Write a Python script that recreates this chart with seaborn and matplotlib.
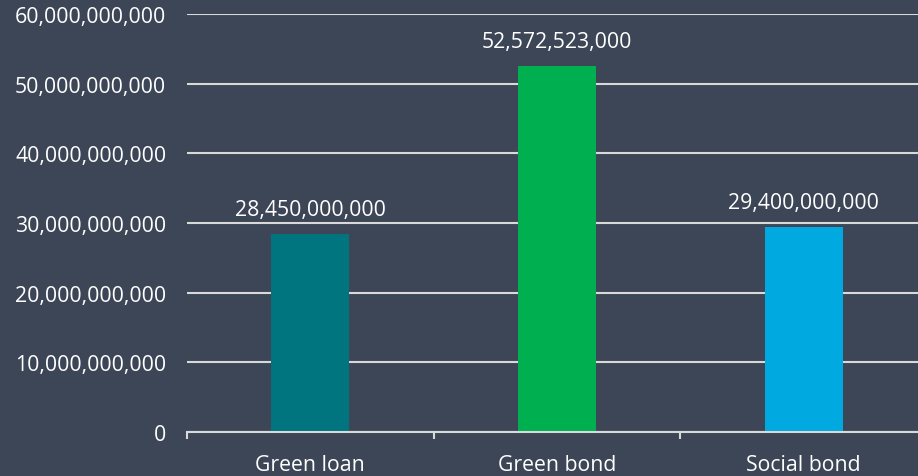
import matplotlib
matplotlib.use("Agg")
import matplotlib.pyplot as plt
import seaborn as sns
import pandas as pd
from matplotlib.ticker import FuncFormatter

categories = ["Green loan", "Green bond", "Social bond"]
values = [28450000000, 52572523000, 29400000000]
colors = ["#00747F", "#00AF50", "#00A9DF"]

BG = "#3D4656"
FG = "#FFFFFF"
GRID = "#D9D9D9"

sns.set_style("white")
plt.rcParams["font.family"] = ["Open Sans", "DejaVu Sans"]

df = pd.DataFrame({"category": categories, "value": values})

fig = plt.figure(figsize=(9.18, 4.77), dpi=100, facecolor=BG)
ax = fig.add_axes([187/918, 44/477, 740/918, 418/477])
ax.set_facecolor(BG)

sns.barplot(data=df, x="category", y="value", hue="category", palette=colors,
            width=0.316, legend=False, ax=ax, saturation=1, linewidth=0)

ax.set_ylim(0, 60000000000)
ax.set_xlim(-0.5, 2.5)
ax.set_yticks([i * 10000000000 for i in range(7)])
ax.yaxis.set_major_formatter(FuncFormatter(lambda v, p: f"{int(v):,}"))
ax.grid(axis="y", color=GRID, linewidth=1.5)
ax.set_axisbelow(True)

for s in ["top", "right", "left"]:
    ax.spines[s].set_visible(False)
ax.spines["bottom"].set_color(GRID)
ax.spines["bottom"].set_linewidth(1.5)

FS = 15.3
ax.tick_params(axis="y", length=0, pad=15, labelsize=FS, labelcolor=FG)
ax.set_xticks([0, 1, 2])
ax.set_xticks([-0.5, 0.5, 1.5], minor=True)
ax.tick_params(axis="x", which="major", bottom=True, length=0, pad=16,
               labelsize=FS, labelcolor=FG)
ax.tick_params(axis="x", which="minor", bottom=True, length=5, width=1.5,
               color=GRID, direction="out")
ax.set_xlabel("")
ax.set_ylabel("")

for c in ax.containers:
    ax.bar_label(c, labels=[f"{int(v):,}" for v in c.datavalues],
                 padding=10, color=FG, fontsize=FS)

fig.savefig("out.png", dpi=100, facecolor=BG)
